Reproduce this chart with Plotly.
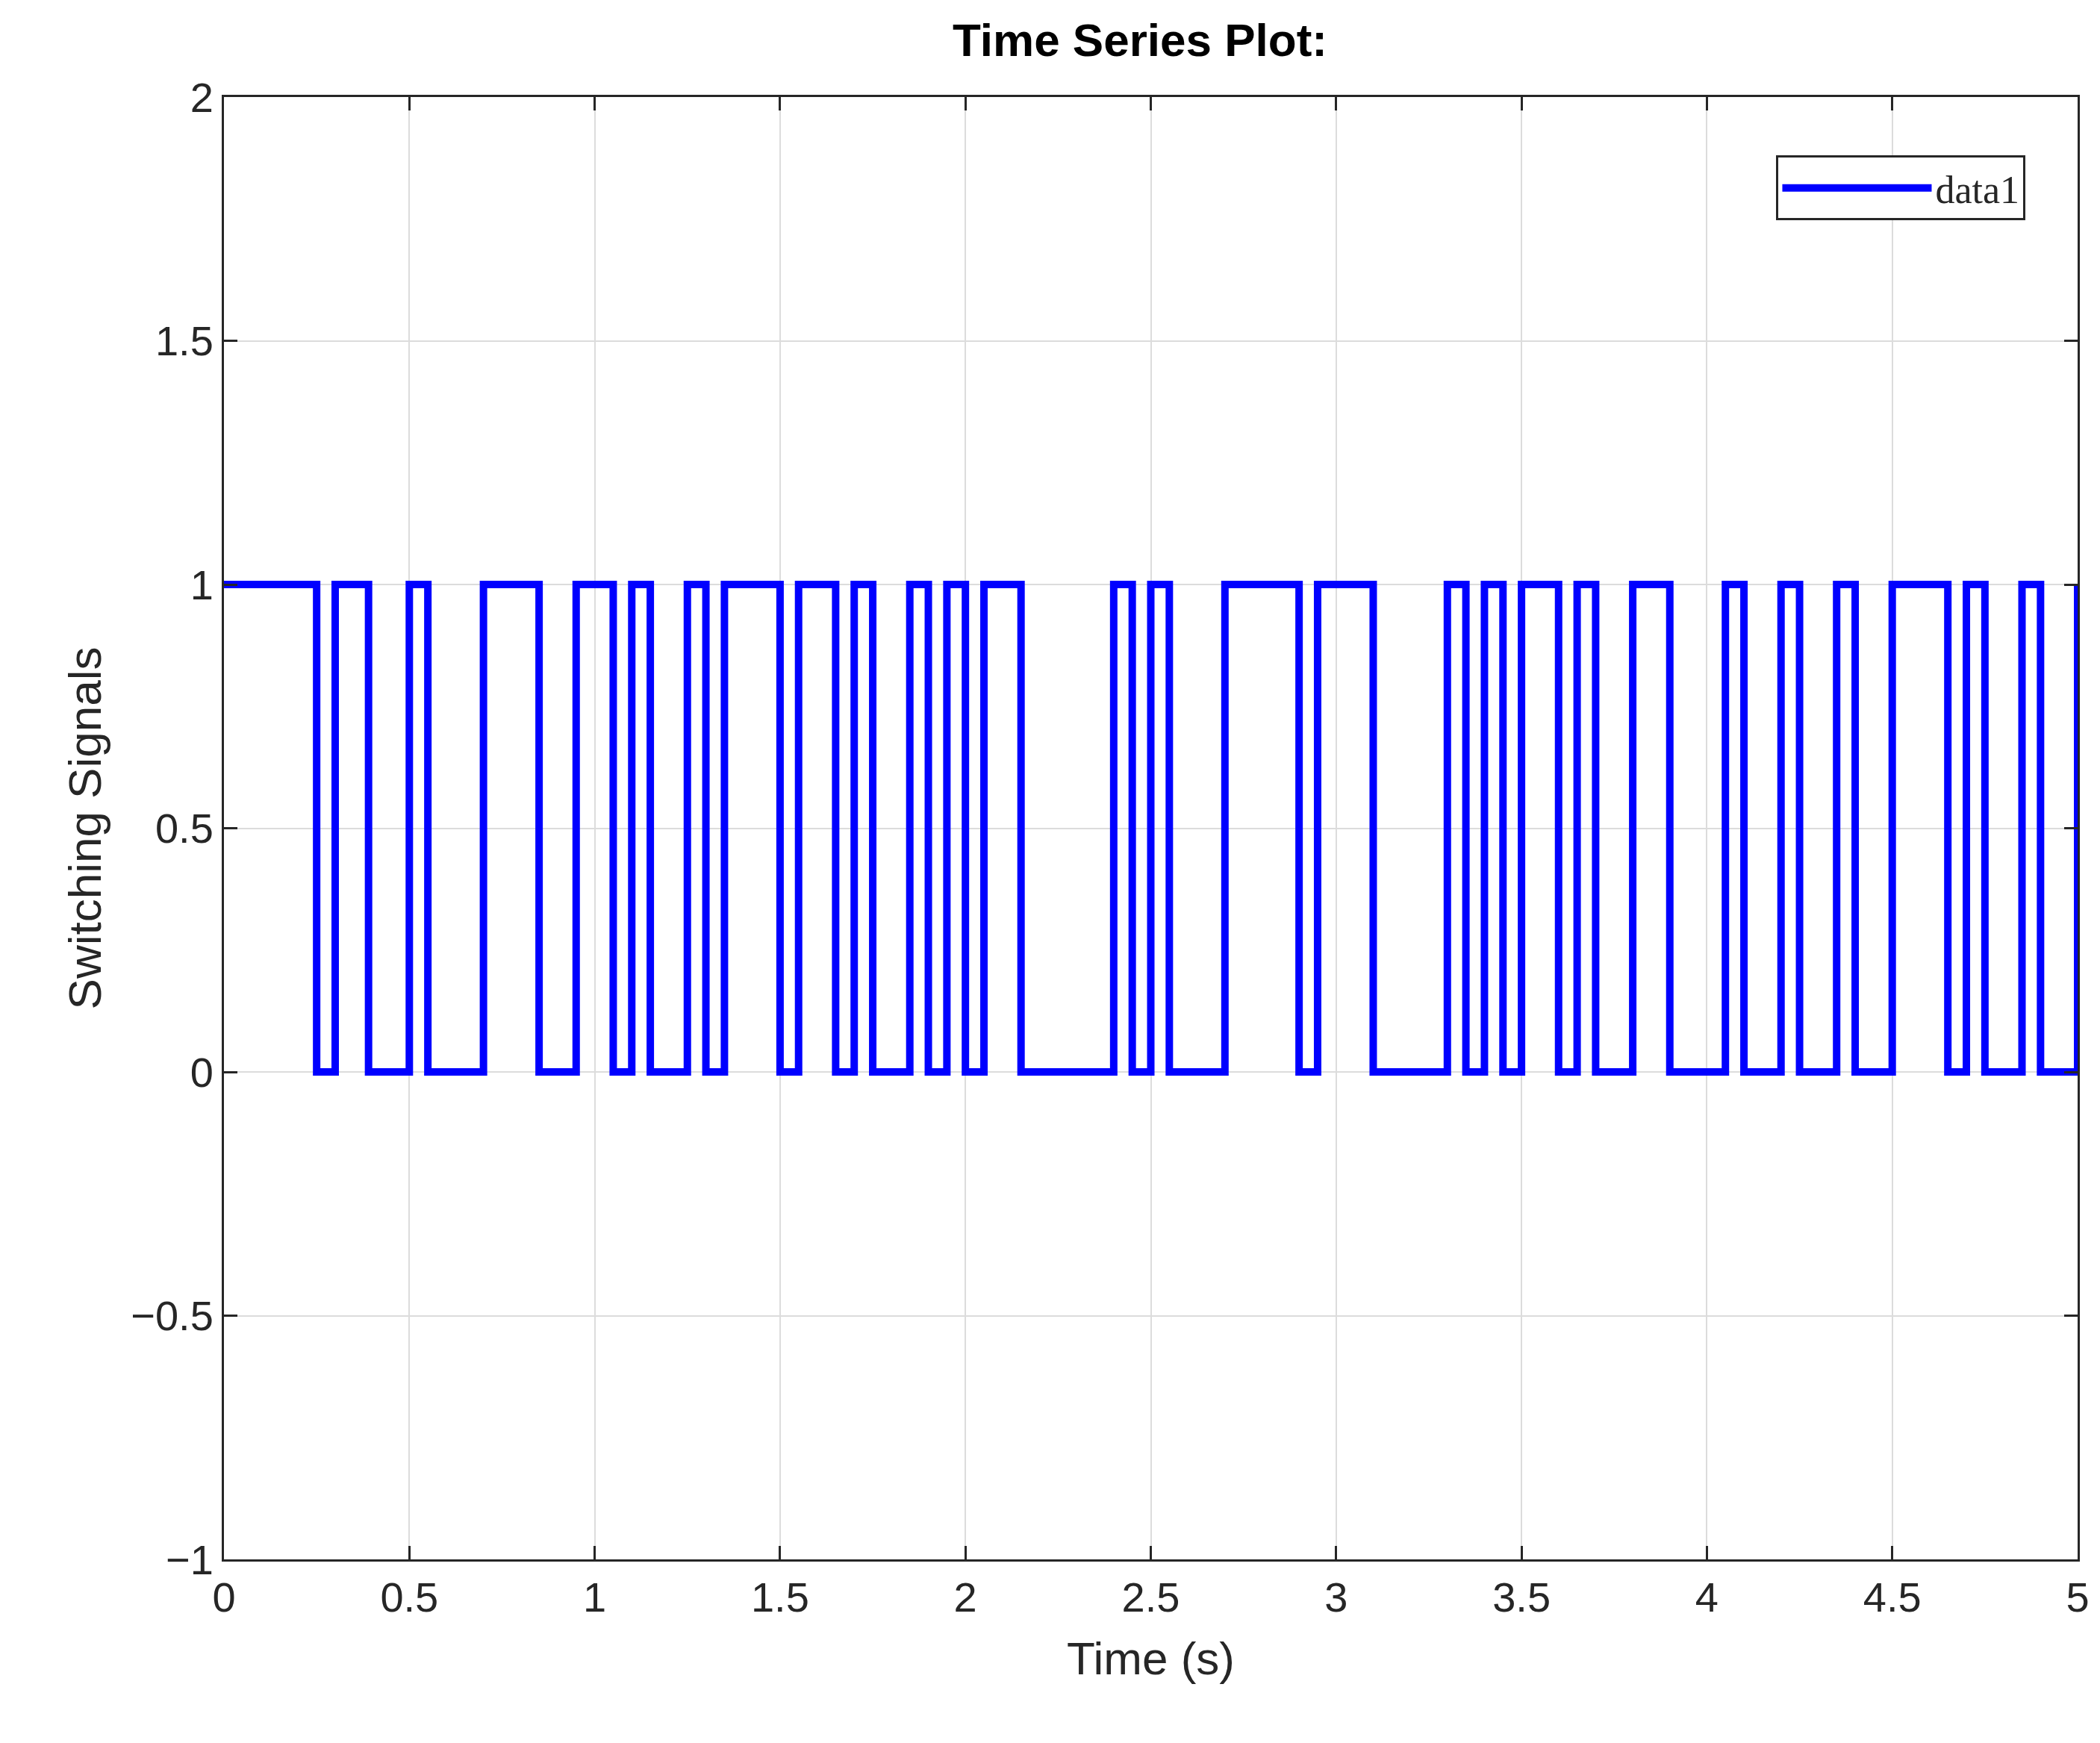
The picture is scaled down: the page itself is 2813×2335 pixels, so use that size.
import plotly.graph_objects as go

# switching instants (s) and the level held from each instant on
switch_times = [0, 0.25, 0.30, 0.39, 0.50, 0.55, 0.70, 0.85, 0.95, 1.05, 1.10, 1.15,
                1.25, 1.30, 1.35, 1.50, 1.55, 1.65, 1.70, 1.75, 1.85, 1.90, 1.95,
                2.00, 2.05, 2.15, 2.40, 2.45, 2.50, 2.55, 2.70, 2.90, 2.95, 3.10,
                3.30, 3.35, 3.40, 3.45, 3.50, 3.60, 3.65, 3.70, 3.80, 3.90, 4.05,
                4.10, 4.20, 4.25, 4.35, 4.40, 4.50, 4.65, 4.70, 4.75, 4.85, 4.90, 5.0]
levels = [1, 0, 1, 0, 1, 0, 1, 0, 1, 0, 1, 0,
          1, 0, 1, 0, 1, 0, 1, 0, 1, 0, 1,
          0, 1, 0, 1, 0, 1, 0, 1, 0, 1, 0,
          1, 0, 1, 0, 1, 0, 1, 0, 1, 0, 1,
          0, 1, 0, 1, 0, 1, 0, 1, 0, 1, 0, 1]

fig = go.Figure()
fig.add_trace(go.Scatter(x=switch_times, y=levels, mode="lines", name="data1",
                         line=dict(color="#0000ff", width=10, shape="hv")))

axis_style = dict(showline=True, linecolor="#262626", linewidth=3, mirror="ticks",
                  ticks="inside", ticklen=18, tickwidth=3, tickcolor="#262626",
                  showgrid=True, gridcolor="#dcdcdc", gridwidth=2, zeroline=False,
                  tickfont=dict(size=56, color="#262626", family="Liberation Sans"))

fig.update_xaxes(range=[0, 5], dtick=0.5, **axis_style,
                 title=dict(text="Time (s)", font=dict(size=62, family="Liberation Sans", color="#262626"),
                            standoff=30))
fig.update_yaxes(range=[-1, 2], dtick=0.5, **axis_style,
                 title=dict(text="Switching Signals", font=dict(size=62, family="Liberation Sans", color="#262626"),
                            standoff=20))

fig.update_layout(
    width=2813, height=2335,
    margin=dict(l=292, r=38, t=122, b=254),
    paper_bgcolor="white", plot_bgcolor="white",
    title=dict(text="<b>Time Series Plot:</b>", x=0.54, xanchor="center", y=0.99, yanchor="top",
               font=dict(size=62, family="Liberation Sans", color="black")),
    showlegend=True,
    legend=dict(x=0.972, y=0.96, xanchor="right", yanchor="top",
                bordercolor="#262626", borderwidth=3, bgcolor="white",
                font=dict(size=52, family="Liberation Serif", color="#262626"),
                itemwidth=200),
)

fig.write_html("out.html")
